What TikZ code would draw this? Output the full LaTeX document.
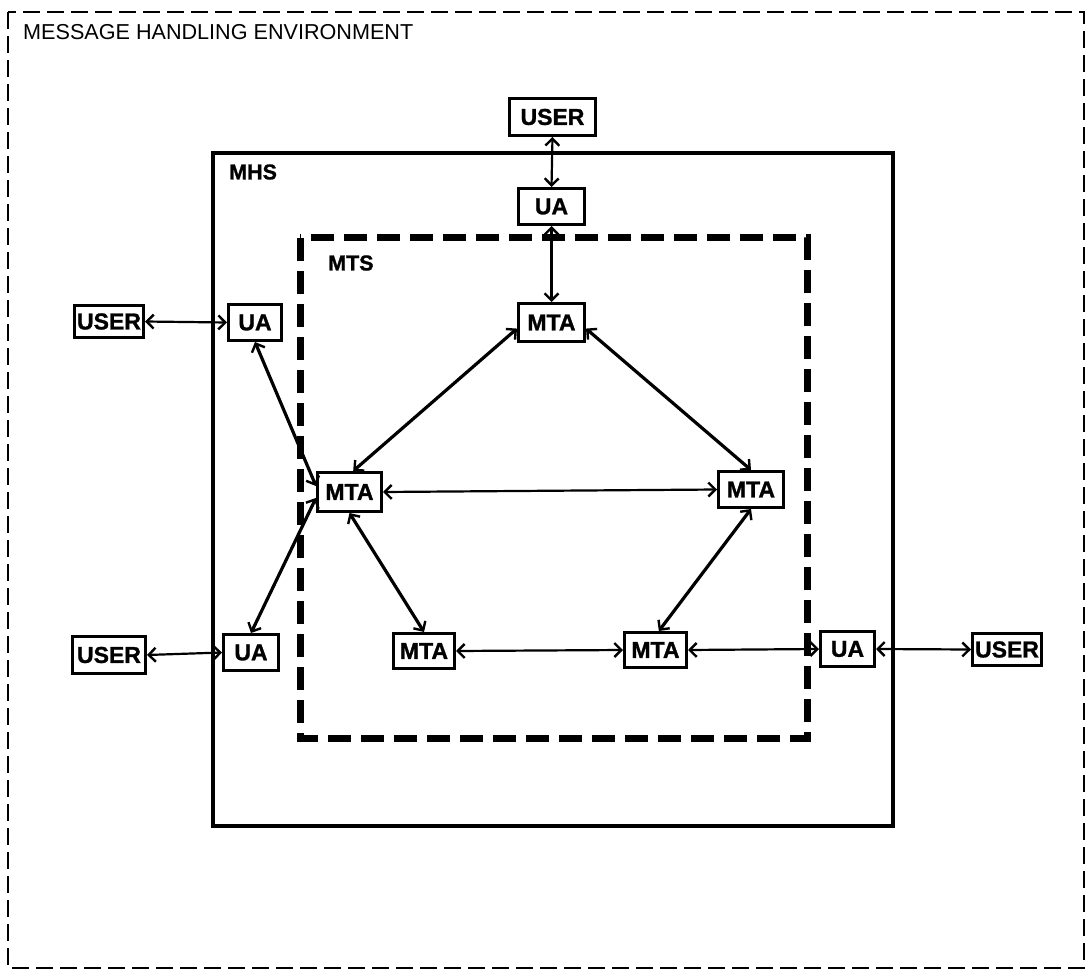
\documentclass[tikz,border=0pt]{standalone}
\usepackage{fontspec}
\setmainfont{Liberation Sans}[BoldFeatures={FakeBold=1.2}]
\usetikzlibrary{arrows.meta}
\tikzset{
  box/.style={draw, line width=3pt, inner sep=0pt, font=\fontsize{23}{23}\selectfont\bfseries},
  env/.style={line width=2pt, dash pattern=on 17pt off 7pt},
  mhs/.style={line width=4pt},
  mts/.style={line width=7pt, dash pattern=on 23pt off 10pt},
  arr/.style={line width=2.2pt, {Straight Barb[length=7pt,width=14pt,line width=2.4pt]}-{Straight Barb[length=7pt,width=14pt,line width=2.4pt]}},
  darr/.style={arr, line width=3.2pt},
  lbl/.style={anchor=west, inner sep=0pt, font=\fontsize{21.5}{21.5}\selectfont\bfseries},
  ttl/.style={anchor=west, inner sep=0pt, font=\fontsize{21.6}{21.6}\selectfont}
}
\begin{document}
\begin{tikzpicture}[x=1pt,y=1pt]
\useasboundingbox (0,0) rectangle (1091,-976);
% frames
\draw[env] (8,-12) rectangle (1084,-968);
\draw[mhs] (213,-153) rectangle (893,-826);
\draw[mts] (300,-238) rectangle (807,-738);
\node[ttl] (title) at (23,-32) {MESSAGE HANDLING ENVIRONMENT};
\node[lbl] (mhslbl) at (229,-172) {MHS};
\node[lbl] (mtslbl) at (328,-263) {MTS};
% nodes
\node[box, minimum width=86pt, minimum height=37pt] (userT) at (552.5,-117) {USER};
\node[box, minimum width=66pt, minimum height=36pt] (uaT) at (551.5,-206.5) {UA};
\node[box, minimum width=66pt, minimum height=38pt] (mtaT) at (551.5,-322.5) {MTA};
\node[box, minimum width=69pt, minimum height=32pt] (userL) at (109,-321.5) {USER};
\node[box, minimum width=53pt, minimum height=36pt] (uaL) at (255,-322.5) {UA};
\node[box, minimum width=64pt, minimum height=39pt] (mtaL) at (349.5,-492) {MTA};
\node[box, minimum width=65pt, minimum height=36pt] (mtaR) at (751,-489.5) {MTA};
\node[box, minimum width=73pt, minimum height=37pt] (userBL) at (109,-655) {USER};
\node[box, minimum width=55pt, minimum height=36pt] (uaBL) at (251,-652.5) {UA};
\node[box, minimum width=61pt, minimum height=35pt] (mtaBL) at (424,-651) {MTA};
\node[box, minimum width=62pt, minimum height=35pt] (mtaBR) at (655.5,-650) {MTA};
\node[box, minimum width=54pt, minimum height=35pt] (uaR) at (847.5,-649) {UA};
\node[box, minimum width=69pt, minimum height=32pt] (userR) at (1007,-649.5) {USER};
% connectors
\draw[arr] (userT.south) -- (uaT.north);
\draw[arr] (uaT.south) -- (mtaT.north);
\draw[arr] (userL.east) -- (uaL.west);
\draw[darr] (uaL.south) -- (mtaL.170);
\draw[darr] (uaBL.north) -- (mtaL.190);
\draw[darr] (mtaT.190) -- (mtaL.80);
\draw[darr] (mtaT.-10) -- (mtaR.north);
\draw[arr] (mtaL.east) -- (mtaR.west);
\draw[darr] (mtaL.south) -- (mtaBL.north);
\draw[darr] (mtaR.south) -- (mtaBR.80);
\draw[arr] (mtaBL.east) -- (mtaBR.west);
\draw[arr] (mtaBR.east) -- (uaR.west);
\draw[arr] (uaR.east) -- (userR.west);
\draw[arr] (uaBL.west) -- (userBL.east);
\end{tikzpicture}
\end{document}
